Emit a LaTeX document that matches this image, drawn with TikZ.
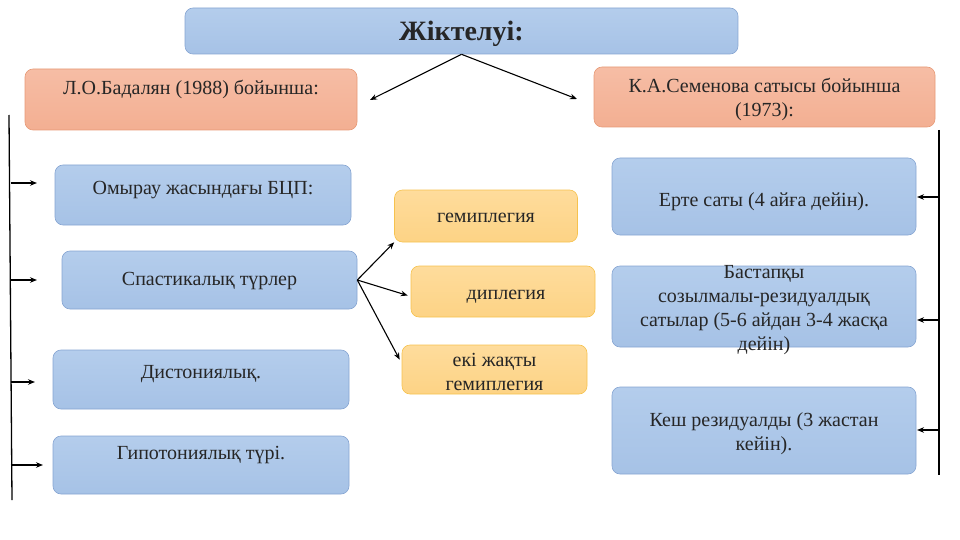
\documentclass[tikz,border=0pt]{standalone}
\usepackage{fontspec}
\setmainfont{Liberation Serif}
\usetikzlibrary{arrows.meta}
\definecolor{boxblue}{HTML}{A6C2E6}
\definecolor{boxbluetop}{HTML}{B4CDEC}
\definecolor{lineblue}{HTML}{86A5D2}
\definecolor{boxsalmon}{HTML}{F3AF92}
\definecolor{boxsalmontop}{HTML}{F6BDA5}
\definecolor{linesalmon}{HTML}{E79A77}
\definecolor{boxorange}{HTML}{FDD385}
\definecolor{boxorangetop}{HTML}{FEDC9C}
\definecolor{lineorange}{HTML}{F6C24E}
\newcommand\dropby[1]{\rule{0pt}{#1}}
\tikzset{
  card/.style={rounded corners=8pt, line width=0.6pt, align=center, inner sep=2pt,
    font={\fontsize{20}{24}\selectfont}, text=black!85},
  bluecard/.style={card, draw=lineblue, top color=boxbluetop, bottom color=boxblue},
  salmoncard/.style={card, draw=linesalmon, top color=boxsalmontop, bottom color=boxsalmon},
  orangecard/.style={card, draw=lineorange, top color=boxorangetop, bottom color=boxorange},
  oneline/.style={text height=#1, text depth=5pt},
  oneline/.default=14pt,
  lifted/.style={text height=14pt, text depth=#1},
  arr/.style={-{Stealth[length=7pt,width=5.5pt]}, line width=1.1pt},
  bar/.style={line width=1.3pt}
}
\begin{document}
\begin{tikzpicture}[x=1pt, y=-1pt]
  \useasboundingbox (0,0) rectangle (960,540);
  % title and headers
  \node[bluecard, minimum width=553pt, minimum height=46pt, text height=24pt, text depth=4pt,
    font={\fontsize{28}{30}\bfseries\selectfont}] (title) at (461.5,31) {Жіктелуі:};
  \node[salmoncard, minimum width=332pt, minimum height=61pt, lifted=23pt] (badalyan) at (191,99.5) {Л.О.Бадалян (1988) бойынша:};
  \node[salmoncard, minimum width=341pt, minimum height=60pt] (semenova) at (764.5,97) {\dropby{20pt}К.А.Семенова сатысы бойынша\\(1973):};
  % left column
  \node[bluecard, minimum width=296pt, minimum height=60pt, lifted=15pt] (infant) at (203,195) {Омырау жасындағы БЦП:};
  \node[bluecard, minimum width=295pt, minimum height=58pt, oneline=16pt] (spastic) at (209.5,280) {Спастикалық түрлер};
  \node[bluecard, minimum width=296pt, minimum height=59pt, lifted=17pt] (dystonic) at (201,379.5) {Дистониялық.};
  \node[bluecard, minimum width=296pt, minimum height=58pt, lifted=25pt] (hypotonic) at (201,465) {Гипотониялық түрі.};
  % spastic forms
  \node[orangecard, minimum width=183pt, minimum height=52pt, oneline=18pt] (hemi) at (486,216) {гемиплегия};
  \node[orangecard, minimum width=184pt, minimum height=51pt, oneline=21pt] (diple) at (503,291.5) {\hspace*{6pt}диплегия};
  \node[orangecard, minimum width=185pt, minimum height=49pt] (double) at (494.5,369.5) {\dropby{18pt}екі жақты\\гемиплегия};
  % right column
  \node[bluecard, minimum width=304pt, minimum height=77pt, oneline=24pt] (early) at (764,196.5) {Ерте саты (4 айға дейін).};
  \node[bluecard, minimum width=304pt, minimum height=81pt, inner ysep=-12pt] (initial) at (764,306.5) {\dropby{20pt}Бастапқы\\созылмалы-резидуалдық\\сатылар (5-6 айдан 3-4 жасқа\\дейін)};
  \node[bluecard, minimum width=304pt, minimum height=87pt] (late) at (764,430.5) {\dropby{20pt}Кеш резидуалды (3 жастан\\кейін).};
  % title arrows
  \coordinate (tleft) at (370,100);
  \coordinate (tright) at (577,99);
  \draw[arr] (title.south) -- (tleft);
  \draw[arr] (title.south) -- (tright);
  % spastic arrows
  \draw[arr] (spastic.east) -- (hemi.south west);
  \draw[arr] (spastic.east) -- ([xshift=-3pt,yshift=-4pt]diple.west);
  \draw[arr] (spastic.east) -- ([xshift=-2pt,yshift=-15pt]double.north west);
  % left bar
  \coordinate (ltop) at (9,115);
  \coordinate (lbot) at (12,500);
  \draw[bar] (ltop) -- (lbot);
  \foreach \y/\x [count=\n] in {183/37, 280/37, 382/35, 465/43} {
    \coordinate (ls\n) at (10.5,\y);
    \coordinate (le\n) at (\x,\y);
    \draw[arr] (ls\n) -- (le\n);
  }
  % right bar
  \coordinate (rtop) at (939,130);
  \coordinate (rbot) at (939,475);
  \draw[bar] (rtop) -- (rbot);
  \foreach \y [count=\n] in {197, 320, 430} {
    \coordinate (rs\n) at (939,\y);
    \coordinate (re\n) at (917,\y);
    \draw[arr] (rs\n) -- (re\n);
  }
\end{tikzpicture}
\end{document}
